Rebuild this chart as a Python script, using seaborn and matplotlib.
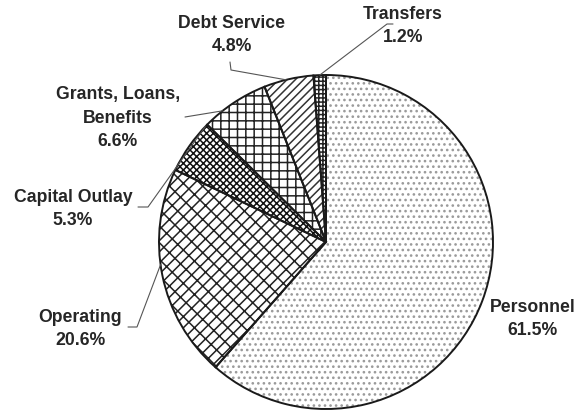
import numpy as np
import matplotlib
matplotlib.use("Agg")
import matplotlib.pyplot as plt
import seaborn as sns

# ---- data ----
categories = ["Personnel", "Operating", "Capital Outlay",
              "Grants, Loans, Benefits", "Debt Service", "Transfers"]
shares = [61.5, 20.6, 5.3, 6.6, 4.8, 1.2]
label_lines = [["Personnel"], ["Operating"], ["Capital Outlay"],
               ["Grants, Loans,", "Benefits"], ["Debt Service"], ["Transfers"]]

# ---- style ----
hatches = ["...", "///\\\\", "xxxxx", "++", "////", "++++"]
hatch_colors = ["#9a9a9a", "#222222", "#111111", "#222222", "#333333", "#222222"]
# label layout in pixel coordinates (x center, y of first line, top-down)
label_pos = [(533, 307), (80, 317), (73, 197), (118, 95), (232, 23), (403, 14)]
# elbow points of leader lines (pixel, top-down); None = no leader line
elbows = [None,
          [(128, 328), (137, 328)],
          [(138, 208), (148, 208)],
          [(185, 118)],
          [(230, 63), (231, 71)],
          [(393, 25), (387, 25)]]
anchor_frac = [0.5, 0.45, 0.05, 0.7, 0.55, 0.5]

W, H = 584, 414
sns.set_theme(style="white")
plt.rcParams["font.family"] = ["Liberation Sans", "DejaVu Sans"]
plt.rcParams["hatch.linewidth"] = 1.1

fig = plt.figure(figsize=(W / 100, H / 100), dpi=100)
ax = fig.add_axes([0, 0, 1, 1])
ax.set_xlim(0, W)
ax.set_ylim(0, H)
ax.set_aspect("equal")
ax.axis("off")

cx, cy, r = 326, H - 243, 167

wedges, _ = ax.pie(shares, startangle=90, counterclock=False,
                   center=(cx, cy), radius=r, frame=True,
                   wedgeprops=dict(linewidth=0, facecolor="white"))
for w, h, c in zip(wedges, hatches, hatch_colors):
    w.set_hatch(h)
    w.set_edgecolor(c)
    w.set_linewidth(0)

outline, _ = ax.pie(shares, startangle=90, counterclock=False,
                    center=(cx, cy), radius=r, frame=True,
                    wedgeprops=dict(linewidth=1.4, facecolor="none",
                                    edgecolor="#1a1a1a"))
ax.set_xlim(0, W)
ax.set_ylim(0, H)
ax.axis("off")

txt_color = "#262626"
for i, (lines, share) in enumerate(zip(label_lines, shares)):
    x0, y0 = label_pos[i]
    allines = lines + [f"{share:.1f}%"]
    for j, s in enumerate(allines):
        ax.text(x0, H - (y0 + j * 23.5), s, ha="center", va="center",
                fontsize=12.7, fontweight="bold", color=txt_color)
    if elbows[i] is not None:
        w = outline[i]
        t1, t2 = w.theta1, w.theta2
        t = np.deg2rad(t1 + (t2 - t1) * anchor_frac[i])
        ex, ey = cx + r * np.cos(t), cy + r * np.sin(t)
        xs = [p[0] for p in elbows[i]] + [ex]
        ys = [H - p[1] for p in elbows[i]] + [ey]
        ax.plot(xs, ys, color="#555555", lw=0.8, zorder=1)

fig.savefig("out.png", dpi=100)
